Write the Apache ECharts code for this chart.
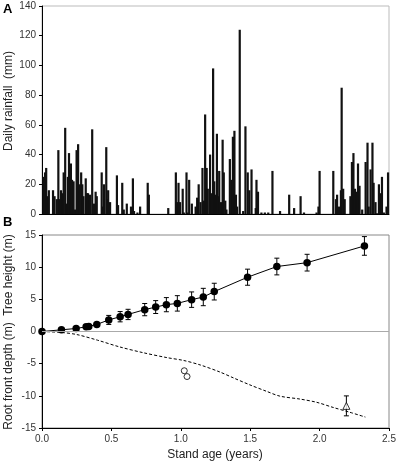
<!DOCTYPE html>
<html><head><meta charset="utf-8">
<script src="https://cdn.jsdelivr.net/npm/echarts@6/dist/echarts.min.js"></script>
<style>html,body{margin:0;padding:0;background:#fff}#c{width:399px;height:466px}</style>
</head><body><div id="c"></div>
<script>
// Panel A: daily rainfall (day since planting, mm)
const rainDay = [4,8,11,15,18,29,33,39,43,46,50,53,57,61,64,68,71,76,79,83,87,91,95,99,103,106,109,115,118,121,126,132,134,137,141,144,157,160,163,169,171,174,179,197,200,211,215,223,234,239,242,251,258,278,281,332,352,355,359,363,370,373,380,383,387,394,404,408,412,
417,422,426,429,433,436,442,446,450,453,457,460,463,466,471,475,478,482,485,494,498,502,506,510,513,520,529,535,541,545,551,562,564,568,577,586,595,606,626,650,663,680,689,722,727,730,766,773,776,781,786,788,792,796,811,815,819,823,827,831,835,842,851,856,859,864,869,872,877,881,886,889,894,899,906,910];
const rainMm = [25,28,31,12,16,16,12,10,43,10,16,14,28,58,7,25,41,34,23,22,3,43,47,20,28,20,12,24,14,14,13,57,3,7,15,12,28,5,20,45,10,16,8,26,6,21,3,7,5,24,2,1,5,21,13,4,28,8,21,8,17,1,28,1,23,7,5,11,20,
8,31,9,67,31,17,40,14,98,22,13,54,12,29,8,50,28,9,3,37,23,52,56,13,5,124,2,59,28,16,30,4,23,15,1,1,1,29,2,13,4,12,1,1,5,29,29,10,13,5,16,85,17,10,12,35,41,17,15,34,19,3,35,48,5,30,48,21,8,0.5,20,14,25,1,5,28];
const daysPerYear = 365;

// Panel B: tree height (years, m, s.e.)
const heightAge = [0,0.14,0.246,0.318,0.337,0.395,0.481,0.563,0.62,0.74,0.819,0.896,0.975,1.078,1.162,1.241,1.481,1.692,1.91,2.323];
const heightM   = [0,0.26,0.47,0.73,0.78,1.1,1.8,2.3,2.65,3.4,3.8,4.17,4.37,4.95,5.36,6.2,8.44,10.1,10.7,13.3];
const heightErr = [0,0,0,0,0,0,0.7,0.8,0.8,0.95,1.0,1.1,1.2,1.2,1.35,1.3,1.25,1.3,1.3,1.45];
// Root front depth model (dashed)
const rootAge = [0,0.14,0.25,0.4,0.56,0.73,0.9,1.02,1.14,1.282,1.378,1.498,1.618,1.714,1.858,1.978,2.097,2.217,2.33];
const rootM   = [0,-0.15,-0.47,-1.35,-2.4,-3.3,-4.06,-4.5,-5.2,-6.3,-7.2,-8.3,-9.3,-10.05,-10.5,-11.0,-11.8,-12.55,-13.3];
// Observed root depth
const obsCircAge = [1.025,1.045];
const obsCircM = [-6.1,-7.0];
const obsTriAge = [2.193];
const obsTriM = [-11.56];
const obsTriErr = [1.55];

const FONT = 'Liberation Sans, Arial, sans-serif';
const chart = echarts.init(document.getElementById('c'), null, {renderer:'canvas'});

function errItem(params, api){
  const x = api.value(0), y = api.value(1), e = api.value(2);
  const t = api.coord([x, y + e]), b = api.coord([x, y - e]);
  const cw = 2.5;
  const st = {stroke:'#000', lineWidth:1};
  return {type:'group', children:[
    {type:'line', shape:{x1:t[0],y1:t[1],x2:b[0],y2:b[1]}, style:st},
    {type:'line', shape:{x1:t[0]-cw,y1:t[1],x2:t[0]+cw,y2:t[1]}, style:st},
    {type:'line', shape:{x1:b[0]-cw,y1:b[1],x2:b[0]+cw,y2:b[1]}, style:st}
  ]};
}

const axisLbl = {fontFamily:FONT, fontSize:10, color:'#333'};

chart.setOption({
  animation:false,
  textStyle:{fontFamily:FONT},
  grid:[
    {left:42, top:6, width:347, height:208, show:true, borderColor:'#bbb', borderWidth:1},
    {left:42, top:235, width:347, height:193, show:true, borderColor:'#888', borderWidth:1}
  ],
  xAxis:[
    {gridIndex:0, type:'value', min:0, max:2.5*daysPerYear,
     axisLine:{show:true, onZero:false, lineStyle:{color:'#000'}}, axisTick:{show:false}, axisLabel:{show:false}, splitLine:{show:false}},
    {gridIndex:1, type:'value', min:0, max:2.5, interval:0.5,
     axisLine:{show:true, onZero:false, lineStyle:{color:'#000'}},
     axisTick:{show:true, inside:false, length:3, lineStyle:{color:'#000'}},
     axisLabel:Object.assign({margin:6, formatter:v=>v.toFixed(1)}, axisLbl), splitLine:{show:false}}
  ],
  yAxis:[
    {gridIndex:0, type:'value', min:0, max:140, interval:20,
     axisLine:{show:true, lineStyle:{color:'#000'}}, axisTick:{show:true, length:3, lineStyle:{color:'#000'}},
     axisLabel:Object.assign({margin:6}, axisLbl), splitLine:{show:false}},
    {gridIndex:1, type:'value', min:-15, max:15, interval:5,
     axisLine:{show:true, onZero:false, lineStyle:{color:'#000'}}, axisTick:{show:true, length:3, lineStyle:{color:'#000'}},
     axisLabel:Object.assign({margin:6}, axisLbl), splitLine:{show:false}}
  ],
  series:[
    {type:'bar', xAxisIndex:0, yAxisIndex:0, barWidth:2.2, itemStyle:{color:'#111'},
     data: rainDay.map((d,i)=>[d, rainMm[i]])},
    {type:'line', xAxisIndex:1, yAxisIndex:1, data:rootAge.map((a,i)=>[a, rootM[i]]),
     symbol:'none', smooth:0.3, lineStyle:{color:'#000', width:1, type:[3,2]},
     markLine:{silent:true, symbol:'none', label:{show:false}, lineStyle:{color:'#aaa', width:1, type:'solid'}, data:[{yAxis:0}]}},
    {type:'custom', xAxisIndex:1, yAxisIndex:1, renderItem:errItem,
     data: heightAge.map((a,i)=>[a, heightM[i], heightErr[i]]), z:3},
    {type:'line', xAxisIndex:1, yAxisIndex:1, data:heightAge.map((a,i)=>[a, heightM[i]]),
     symbol:'circle', symbolSize:7.5, itemStyle:{color:'#000'}, lineStyle:{color:'#000', width:1}, z:4},
    {type:'scatter', xAxisIndex:1, yAxisIndex:1, data:obsCircAge.map((a,i)=>[a, obsCircM[i]]),
     symbol:'circle', symbolSize:6, itemStyle:{color:'#fff', borderColor:'#000', borderWidth:1}, z:4},
    {type:'custom', xAxisIndex:1, yAxisIndex:1, renderItem:errItem,
     data: obsTriAge.map((a,i)=>[a, obsTriM[i], obsTriErr[i]]), z:3},
    {type:'scatter', xAxisIndex:1, yAxisIndex:1, data:obsTriAge.map((a,i)=>[a, obsTriM[i]]),
     symbol:'triangle', symbolSize:7, itemStyle:{color:'#fff', borderColor:'#000', borderWidth:1}, z:4}
  ],
  graphic:[
    {type:'text', left:3, top:3, style:{text:'A', font:'bold 13px '+FONT, fill:'#000'}},
    {type:'text', left:3, top:216, style:{text:'B', font:'bold 13px '+FONT, fill:'#000'}},
    {type:'text', x:9, y:101, rotation:Math.PI/2, style:{text:'Daily rainfall  (mm)', font:'12px '+FONT, fill:'#222', align:'center', verticalAlign:'middle'}},
    {type:'text', x:9, y:275, rotation:Math.PI/2, style:{text:'Tree height (m)', font:'12px '+FONT, fill:'#222', align:'center', verticalAlign:'middle'}},
    {type:'text', x:9, y:376, rotation:Math.PI/2, style:{text:'Root front depth (m)', font:'12px '+FONT, fill:'#222', align:'center', verticalAlign:'middle'}},
    {type:'text', x:215, y:455, style:{text:'Stand age (years)', font:'12px '+FONT, fill:'#222', align:'center', verticalAlign:'middle'}}
  ]
});
</script></body></html>
